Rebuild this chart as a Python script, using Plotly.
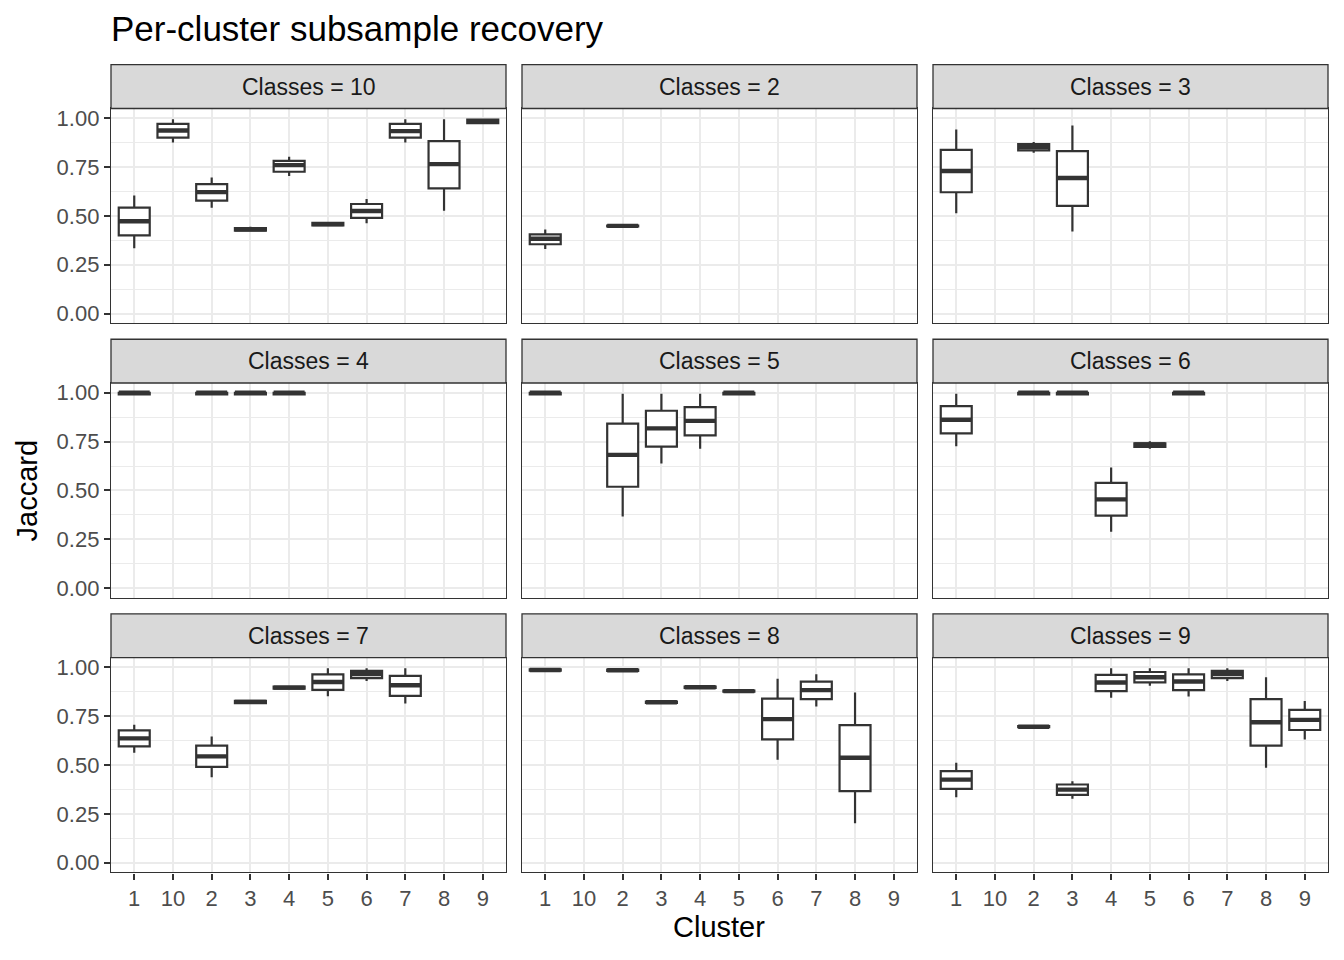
import plotly.graph_objects as go

# ---------------- data ----------------
CATEGORIES = ["1", "10", "2", "3", "4", "5", "6", "7", "8", "9"]
PANEL_LABELS = ["Classes = 10", "Classes = 2", "Classes = 3",
                "Classes = 4", "Classes = 5", "Classes = 6",
                "Classes = 7", "Classes = 8", "Classes = 9"]
Y_TICKS = [0.0, 0.25, 0.5, 0.75, 1.0]
Y_TICK_TEXT = ["0.00", "0.25", "0.50", "0.75", "1.00"]

# (cluster, lower whisker, q1, median, q3, upper whisker)
K10 = [("1", 0.335, 0.400, 0.473, 0.542, 0.604),
       ("10", 0.876, 0.901, 0.937, 0.971, 0.995),
       ("2", 0.542, 0.578, 0.622, 0.663, 0.696),
       ("3", 0.420, 0.424, 0.432, 0.438, 0.445),
       ("4", 0.704, 0.726, 0.760, 0.782, 0.803),
       ("5", 0.450, 0.452, 0.458, 0.465, 0.467),
       ("6", 0.463, 0.490, 0.525, 0.561, 0.587),
       ("7", 0.876, 0.901, 0.934, 0.971, 0.995),
       ("8", 0.527, 0.641, 0.765, 0.883, 0.995),
       ("9", 0.972, 0.975, 0.985, 0.993, 0.996)]
K2 = [("1", 0.330, 0.355, 0.383, 0.405, 0.430),
      ("2", 0.445, 0.446, 0.449, 0.451, 0.453)]
K3 = [("1", 0.514, 0.621, 0.730, 0.838, 0.942),
      ("2", 0.823, 0.836, 0.852, 0.868, 0.879),
      ("3", 0.420, 0.551, 0.694, 0.832, 0.963)]
K4 = [("1", 0.992, 0.992, 1.000, 1.000, 1.000),
      ("2", 0.992, 0.992, 1.000, 1.000, 1.000),
      ("3", 0.992, 0.992, 1.000, 1.000, 1.000),
      ("4", 0.992, 0.992, 1.000, 1.000, 1.000)]
K5 = [("1", 0.992, 0.992, 1.000, 1.000, 1.000),
      ("2", 0.366, 0.519, 0.682, 0.842, 0.995),
      ("3", 0.638, 0.724, 0.818, 0.908, 0.995),
      ("4", 0.713, 0.782, 0.856, 0.927, 0.995),
      ("5", 0.992, 0.992, 1.000, 1.000, 1.000)]
K6 = [("1", 0.726, 0.792, 0.862, 0.932, 0.995),
      ("2", 0.992, 0.992, 1.000, 1.000, 1.000),
      ("3", 0.992, 0.992, 1.000, 1.000, 1.000),
      ("4", 0.289, 0.371, 0.454, 0.539, 0.617),
      ("5", 0.713, 0.723, 0.735, 0.741, 0.752),
      ("6", 0.992, 0.992, 1.000, 1.000, 1.000)]
K7 = [("1", 0.563, 0.595, 0.636, 0.677, 0.706),
      ("2", 0.437, 0.490, 0.544, 0.599, 0.646),
      ("3", 0.815, 0.817, 0.823, 0.828, 0.831),
      ("4", 0.888, 0.891, 0.896, 0.901, 0.903),
      ("5", 0.852, 0.884, 0.925, 0.964, 0.995),
      ("6", 0.930, 0.945, 0.965, 0.982, 0.995),
      ("7", 0.815, 0.854, 0.908, 0.956, 0.995)]
K8 = [("1", 0.982, 0.983, 0.986, 0.989, 0.990),
      ("2", 0.981, 0.982, 0.985, 0.988, 0.989),
      ("3", 0.817, 0.818, 0.821, 0.825, 0.827),
      ("4", 0.894, 0.895, 0.898, 0.901, 0.902),
      ("5", 0.874, 0.875, 0.878, 0.881, 0.882),
      ("6", 0.527, 0.631, 0.735, 0.840, 0.942),
      ("7", 0.799, 0.837, 0.883, 0.927, 0.964),
      ("8", 0.202, 0.366, 0.537, 0.704, 0.871)]
K9 = [("1", 0.335, 0.378, 0.425, 0.469, 0.512),
      ("2", 0.692, 0.694, 0.696, 0.699, 0.700),
      ("3", 0.327, 0.347, 0.374, 0.400, 0.417),
      ("4", 0.844, 0.878, 0.922, 0.961, 0.995),
      ("5", 0.905, 0.923, 0.949, 0.976, 0.995),
      ("6", 0.850, 0.883, 0.927, 0.964, 0.995),
      ("7", 0.930, 0.945, 0.965, 0.982, 0.995),
      ("8", 0.486, 0.599, 0.719, 0.837, 0.949),
      ("9", 0.631, 0.679, 0.731, 0.782, 0.828)]
PANELS = [K10, K2, K3, K4, K5, K6, K7, K8, K9]

# ---------------- layout geometry (page pixels) ----------------
PAGE_MARGIN = 8  # default body margin of the html page
W, H = 1344 - 2 * PAGE_MARGIN, 960 - 2 * PAGE_MARGIN
COLS = [(111, 506), (522, 917), (933, 1328)]
ROW_PANELS = [(107, 323), (383, 599), (659, 875)]
ROW_STRIPS = [(63, 107), (339, 383), (615, 659)]


def px(v):
    return (v - PAGE_MARGIN) / W


def py(v):
    return 1 - (v - PAGE_MARGIN) / H


FONT = "Liberation Sans, Arial, sans-serif"
DARK = "#333333"
GRID = "#EBEBEB"
BOX_W = 0.8
TICK_SIZE = 22

fig = go.Figure()
shapes = []
annotations = []
layout = {}

for i, data in enumerate(PANELS):
    r, c = divmod(i, 3)
    n = i + 1
    xa = "x" if n == 1 else f"x{n}"
    ya = "y" if n == 1 else f"y{n}"
    xkey = "xaxis" if n == 1 else f"xaxis{n}"
    ykey = "yaxis" if n == 1 else f"yaxis{n}"
    x0, x1 = COLS[c]
    p0, p1 = ROW_PANELS[r]
    s0, s1 = ROW_STRIPS[r]

    clusters = [d[0] for d in data]
    fig.add_trace(go.Box(
        x=clusters,
        lowerfence=[d[1] for d in data],
        q1=[d[2] for d in data],
        median=[d[3] for d in data],
        q3=[d[4] for d in data],
        upperfence=[d[5] for d in data],
        width=BOX_W, whiskerwidth=0, boxpoints=False,
        fillcolor="white", line=dict(color=DARK, width=2.2),
        xaxis=xa, yaxis=ya, showlegend=False, hoverinfo="skip",
    ))
    # thicker median segments (ggplot fatten)
    for d in data:
        idx = CATEGORIES.index(d[0])
        shapes.append(dict(type="line", xref=xa, yref=ya,
                           x0=idx - BOX_W / 2, x1=idx + BOX_W / 2,
                           y0=d[3], y1=d[3],
                           line=dict(color=DARK, width=4.4), layer="above"))

    bottom = (r == 2)
    left = (c == 0)
    layout[xkey] = dict(
        domain=[px(x0), px(x1)], anchor=ya,
        type="category", categoryorder="array", categoryarray=CATEGORIES,
        range=[-0.6, 9.6], showgrid=True, gridcolor=GRID, gridwidth=1.8,
        zeroline=False, showline=True, mirror=True, linecolor=DARK, linewidth=1.3,
        ticks="outside" if bottom else "", ticklen=6, tickwidth=2.2, tickcolor=DARK,
        showticklabels=bottom, tickfont=dict(family=FONT, size=TICK_SIZE, color="#4D4D4D"),
        fixedrange=True,
    )
    layout[ykey] = dict(
        domain=[py(p1), py(p0)], anchor=xa,
        range=[-0.05, 1.05], tickvals=Y_TICKS, ticktext=Y_TICK_TEXT,
        showgrid=True, gridcolor=GRID, gridwidth=1.8,
        minor=dict(tickvals=[0.125, 0.375, 0.625, 0.875], showgrid=True,
                   gridcolor=GRID, gridwidth=1.0, ticks=""),
        zeroline=False, showline=True, mirror=True, linecolor=DARK, linewidth=1.3,
        ticks="outside" if left else "", ticklen=6, tickwidth=2.2, tickcolor=DARK,
        showticklabels=left, tickfont=dict(family=FONT, size=TICK_SIZE, color="#4D4D4D"),
        fixedrange=True,
    )
    # strip
    shapes.append(dict(type="rect", xref="paper", yref="paper",
                       x0=px(x0), x1=px(x1), y0=py(s1), y1=py(s0),
                       fillcolor="#D9D9D9", line=dict(color=DARK, width=1.3),
                       layer="above"))
    annotations.append(dict(text=PANEL_LABELS[i], xref="paper", yref="paper",
                            x=px((x0 + x1) / 2), y=py((s0 + s1) / 2),
                            xanchor="center", yanchor="middle", showarrow=False,
                            font=dict(family=FONT, size=23, color="#1A1A1A")))

annotations.append(dict(text="Per-cluster subsample recovery", xref="paper", yref="paper",
                        x=px(109), y=py(27), xanchor="left", yanchor="middle",
                        showarrow=False, font=dict(family=FONT, size=35, color="black")))
annotations.append(dict(text="Cluster", xref="paper", yref="paper",
                        x=px((111 + 1328) / 2), y=py(930), xanchor="center",
                        yanchor="middle", showarrow=False,
                        font=dict(family=FONT, size=29, color="black")))
annotations.append(dict(text="Jaccard", xref="paper", yref="paper",
                        x=px(27), y=py(491), xanchor="center", yanchor="middle",
                        textangle=-90, showarrow=False,
                        font=dict(family=FONT, size=29, color="black")))

fig.update_layout(
    width=W, height=H, margin=dict(l=0, r=0, t=0, b=0),
    paper_bgcolor="white", plot_bgcolor="white",
    boxmode="overlay", shapes=shapes, annotations=annotations,
    font=dict(family=FONT), **layout,
)

fig.write_html("out.html")
